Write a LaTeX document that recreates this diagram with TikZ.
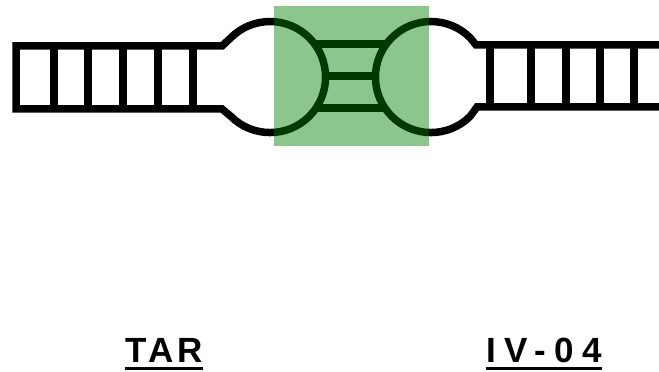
\documentclass[tikz,border=0pt]{standalone}
\usepackage{fontspec}
\setmainfont{Liberation Sans}
\begin{document}
\begin{tikzpicture}[x=1pt,y=1pt,
  strand/.style={draw=black,line width=7.5pt,line join=miter,line cap=butt},
  rung/.style={draw=black,line width=7.5pt},
  highlight/.style={fill={rgb,255:red,0;green,128;blue,0},fill opacity=0.45,draw=none},
  label/.style={inner sep=0pt,anchor=base,font=\fontsize{35}{35}\selectfont\bfseries},
  uline/.style={draw=black,line width=3pt}]
\useasboundingbox (0,0) rectangle (659,372);
% left ladder + left loop
\draw[strand] (16,326) -- (222,326) -- (230.8,334.2)
  arc[start angle=135,end angle=-135,radius=55.5]
  -- (222,263) -- (16,263) -- cycle;
\foreach \x in {54,88,123,158,193}
  \draw[rung] (\x,326) -- (\x,263);
% right ladder + right loop
\draw[strand] (659,327) -- (476,327) -- (470.2,334.2)
  arc[start angle=45,end angle=315,radius=55.5]
  -- (477,265) -- (659,265);
\foreach \x in {490,531,566,600,634}
  \draw[rung] (\x,327) -- (\x,265);
% middle bars
\draw[rung] (314.6,328) -- (386.4,328);
\draw[rung] (325.5,296) -- (375.5,296);
\draw[rung] (316,264) -- (385,264);
% highlight
\path[highlight] (274,226) rectangle (429,366);
% labels
\node[label] (tar) at (164,9) {\addfontfeature{LetterSpace=11}TAR};
\node[label] (iv) at (544,9) {\addfontfeature{LetterSpace=24}IV-04};
\draw[uline] ([yshift=-6pt]tar.base west) -- ([yshift=-6pt]tar.base east);
\draw[uline] ([yshift=-6pt]iv.base west) -- ([yshift=-6pt]iv.base east);
\end{tikzpicture}
\end{document}
